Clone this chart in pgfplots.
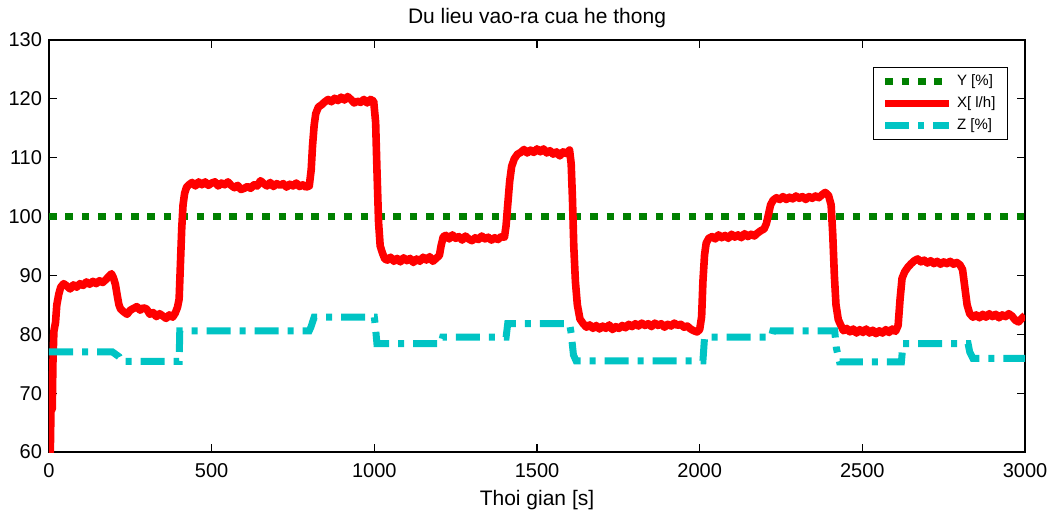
\documentclass[border=0pt]{standalone}
\usepackage{pgfplots}
\pgfplotsset{compat=1.18}
\usepackage{fontspec}
\setmainfont{Liberation Sans}
\definecolor{mgreen}{RGB}{0,128,0}
\definecolor{mred}{RGB}{255,0,0}
\definecolor{mcyan}{RGB}{0,196,196}
\begin{document}
\begin{tikzpicture}
\begin{axis}[
  width=488pt, height=206pt, scale only axis,
  xmin=0, xmax=3000, ymin=60, ymax=130,
  xtick={0,500,...,3000}, ytick={60,70,...,130},
  scaled x ticks=false,
  tick align=inside, major tick length=4pt,
  axis line style={line width=0.6pt},
  every tick/.style={black, line width=0.6pt},
  /pgf/number format/assume math mode=true,
  /pgf/number format/1000 sep={},
  tick label style={font=\fontsize{10}{12}\selectfont},
  xticklabel style={yshift=-2pt},
  title={Du lieu vao-ra cua he thong},
  title style={at={(axis description cs:0.5,1)}, anchor=base, yshift=2.5pt, font=\fontsize{10.5}{12}\selectfont},
  xlabel={Thoi gian [s]},
  xlabel style={at={(axis description cs:0.5,0)}, anchor=base, yshift=-26.5pt, font=\fontsize{10.5}{12}\selectfont},
  legend style={at={(0.9826,0.9345)}, anchor=north east, draw=black, line width=0.6pt,
    font=\fontsize{7.5}{9}\selectfont, inner xsep=4pt, inner ysep=1.5pt, row sep=0pt,
    cells={anchor=west}},
  legend image code/.code={\draw[#1] (0pt,0pt) -- (32pt,0pt);},
]
\addplot[mgreen, line width=3.5pt, dash pattern=on 3.8pt off 4.4pt] coordinates {(0,100) (3000,100)};
\addlegendentry{Y [\%]}
\addplot[mred, line width=3.8pt, line join=round] coordinates {
(0,60)(4,60)(6,67)(10,67.3)(12,75)(15,80.5)(20,82)(24,85)(30,86.8)(36,88)(45,88.6)(55,88.2)(65,87.7)(75,88.4)(85,88)(95,88.6)(105,88.3)(115,88.9)(125,88.5)(135,89)(145,88.6)(155,89.1)(165,88.8)(175,89.3)(185,89.9)(192,90.3)(198,89.6)(204,88.5)(210,86.5)(215,85)(220,84.3)(230,83.8)(240,83.4)(250,84.1)(260,84.4)(270,84.7)(280,84.1)(290,84.5)(300,84.3)(310,83.4)(320,83.7)(330,83)(340,83.5)(350,83.1)(360,82.7)(370,83.3)(380,82.9)(388,83.6)(395,84.6)(400,86)(404,92)(408,98)(412,102)(417,104)(423,105)(430,105.4)(440,105.8)(450,105.2)(460,105.9)(470,105.4)(480,105.9)(490,105.3)(500,105.7)(510,105.9)(520,105.2)(530,105.7)(540,105.4)(550,105.9)(560,105.3)(570,104.9)(580,105.3)(590,104.6)(600,104.8)(610,105.1)(620,104.8)(630,105.4)(640,105.2)(650,106.1)(660,105.6)(670,105.2)(680,105.8)(690,105.1)(700,105.6)(710,105.3)(720,105.6)(730,105)(740,105.5)(750,105.2)(760,105.7)(770,105.1)(780,105.4)(790,105)(800,105.2)(806,108)(810,112)(815,115.5)(820,117.5)(828,118.6)(838,119)(848,119.5)(858,119.9)(868,119.5)(878,120.1)(888,119.7)(898,120.3)(908,119.8)(918,120.4)(928,119.9)(938,119.3)(948,119.6)(958,119.4)(968,119.9)(978,119.3)(988,119.9)(998,119.6)(1004,116)(1008,108)(1013,99)(1018,95)(1025,93.8)(1032,92.8)(1040,92.6)(1050,93.1)(1060,92.4)(1070,92.9)(1080,92.3)(1090,93)(1100,92.5)(1110,92.9)(1120,92.2)(1130,92.8)(1140,92.4)(1150,93.1)(1160,92.6)(1170,93.2)(1180,92.4)(1190,92.9)(1200,93.4)(1205,95)(1212,96.6)(1220,96.8)(1230,96.2)(1240,96.9)(1250,96.3)(1260,96.6)(1270,96)(1280,96.7)(1290,96.2)(1300,95.9)(1310,96.4)(1320,96.1)(1330,96.7)(1340,96.2)(1350,96.5)(1360,96)(1370,96.4)(1380,96.1)(1390,96.6)(1400,96.5)(1405,98.5)(1410,102)(1416,106)(1422,108.5)(1430,109.8)(1440,110.6)(1450,110.9)(1460,111.4)(1470,110.8)(1480,111.3)(1490,110.9)(1500,111.5)(1510,111)(1520,111.5)(1530,110.8)(1540,111.2)(1550,110.6)(1560,111)(1570,110.3)(1580,111)(1590,110.7)(1600,111.3)(1605,109)(1609,103)(1613,95)(1618,89)(1624,85)(1632,82.6)(1642,81.8)(1652,81.2)(1662,81.6)(1672,81)(1682,81.5)(1692,80.9)(1702,81.4)(1712,81)(1722,81.6)(1732,80.8)(1742,81.3)(1752,81)(1762,81.5)(1772,81.1)(1782,81.7)(1792,81.3)(1802,81.8)(1812,81.4)(1822,81.9)(1832,81.5)(1842,81.8)(1852,81.3)(1862,81.9)(1872,81.5)(1882,81.8)(1892,81.2)(1902,81.7)(1912,81.4)(1922,81.9)(1932,81.5)(1942,81.7)(1952,81.2)(1962,81.4)(1972,80.9)(1982,80.6)(1992,80.4)(2000,80.8)(2006,83)(2010,89)(2015,93.5)(2020,95.5)(2028,96.3)(2038,96.6)(2048,96.2)(2058,96.9)(2068,96.4)(2078,96.8)(2088,96.3)(2098,97)(2108,96.5)(2118,96.9)(2128,96.4)(2138,97.1)(2148,96.6)(2158,97)(2168,96.7)(2178,97.2)(2188,97.6)(2198,97.9)(2205,98.8)(2212,100.5)(2218,102)(2226,102.8)(2236,103.2)(2246,102.9)(2256,103.4)(2266,102.9)(2276,103.3)(2286,103)(2296,103.5)(2306,103.1)(2316,103.4)(2326,102.9)(2336,103.4)(2346,103.1)(2356,103.5)(2366,103.2)(2376,103.7)(2386,104.1)(2396,103.6)(2404,102)(2409,97)(2414,90)(2419,85)(2426,82.5)(2434,81.5)(2442,80.6)(2452,81)(2462,80.4)(2472,80.9)(2482,80.2)(2492,80.8)(2502,80.3)(2512,80.9)(2522,80.2)(2532,80.7)(2542,80.1)(2552,80.6)(2562,80.2)(2572,80.8)(2582,80.3)(2592,80.9)(2602,80.5)(2610,81.5)(2616,86)(2622,89.5)(2630,90.6)(2640,91.4)(2650,92)(2660,92.5)(2670,92.8)(2680,92.3)(2690,92.6)(2700,92.1)(2710,92.5)(2720,92)(2730,92.4)(2740,91.9)(2750,92.3)(2760,92)(2770,92.4)(2780,91.9)(2790,92.2)(2800,91.8)(2808,91)(2815,88)(2822,85)(2830,83.5)(2840,82.9)(2850,83.3)(2860,82.8)(2870,83.4)(2880,82.9)(2890,83.5)(2900,83)(2910,83.4)(2920,82.8)(2930,83.3)(2940,83)(2950,83.5)(2960,83.1)(2970,82.4)(2980,82.1)(2990,82.7)(3000,83.2)
};
\addlegendentry{X[ l/h]}
\addplot[mcyan, line width=3.5pt, dash pattern=on 12pt off 4.5pt on 3pt off 4.5pt] coordinates {
(0,77)(195,77)(205,76.6)(215,76.2)(222,75.4)(400,75.4)(402,80.6)(800,80.6)(805,81.2)(815,82.9)(1000,82.9)(1003,81.5)(1008,78.4)(1205,78.4)(1210,79.5)(1405,79.5)(1410,81.8)(1600,81.8)(1605,80.2)(1612,76.5)(1620,75.5)(2010,75.5)(2015,79.5)(2220,79.5)(2225,80.6)(2415,80.6)(2420,77.7)(2430,75.3)(2620,75.3)(2625,78.4)(2825,78.4)(2830,77)(2840,75.9)(3000,75.9)
};
\addlegendentry{Z [\%]}
\coordinate (bl) at (rel axis cs:0,0);
\coordinate (tr) at (rel axis cs:1,1);
\end{axis}
\pgfresetboundingbox
\path ([shift={(-24.5pt,-30.5pt)}]bl) rectangle ([shift={(13.5pt,20pt)}]tr);
\end{tikzpicture}
\end{document}
